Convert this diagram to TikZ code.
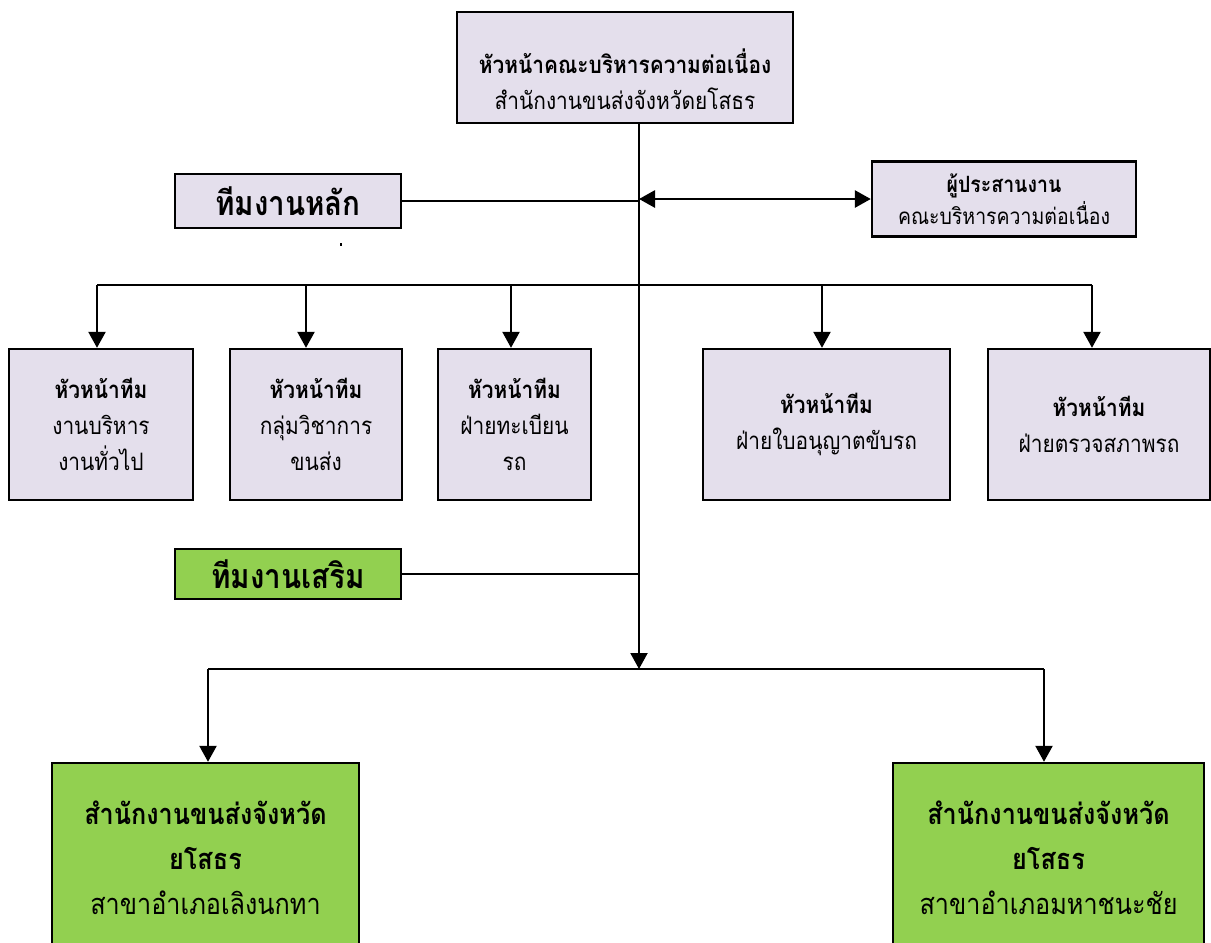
\documentclass[tikz,border=0pt]{standalone}
\usepackage{fontspec}
\setmainfont{Loma}[Script=Thai, FakeStretch=0.87]
\usetikzlibrary{arrows.meta}
\definecolor{lavande}{HTML}{E4DFEC}
\definecolor{vert}{HTML}{92D050}
\begin{document}
\begin{tikzpicture}[x=0.5pt, y=-0.5pt, >={Triangle[width=8.5pt,length=8pt]},
  boite/.style={draw, line width=1.2pt, fill=lavande, align=center, inner sep=0pt,
    font=\fontsize{12}{18}\selectfont},
  verte/.style={boite, fill=vert},
  taille/.style 2 args={minimum width=#1*0.5pt, minimum height=#2*0.5pt},
  trait/.style={line width=1pt}]
\useasboundingbox (0,0) rectangle (1211,943);
\clip (0,0) rectangle (1211,943);
\node[boite, taille={336}{111}] (chef) at (625,67.5)
  {\rule{0pt}{24pt}\textbf{หัวหน้าคณะบริหารความต่อเนื่อง}\\สำนักงานขนส่งจังหวัดยโสธร};
\node[boite, taille={226}{54}, font=\fontsize{17}{20}\selectfont\bfseries] (hlak) at (288,201) {ทีมงานหลัก};
\node[boite, taille={264}{75}, font=\fontsize{11.2}{16}\selectfont] (prasan) at (1004,199)
  {\textbf{ผู้ประสานงาน}\\คณะบริหารความต่อเนื่อง};
\node[verte, taille={226}{50}, font=\fontsize{17}{20}\selectfont\bfseries] (serm) at (288,574) {ทีมงานเสริม};
\fill (340,243) rectangle (342,246);
% axe central
\coordinate (pivot) at (639,669);
\draw[trait,->] (chef.south -| pivot) -- (pivot);
\draw[trait] (hlak.east) -- (hlak.east -| pivot);
\draw[line width=1.4pt,<->] (prasan.west -| pivot) -- (prasan.west);
\draw[trait] (serm.east) -- (serm.east -| pivot);
% chefs d'equipe
\draw[line width=1.2pt] (97,285) -- (1092,285);
\foreach \i/\cx/\lw/\ax/\txt in {1/101/184/97/{งานบริหาร\\งานทั่วไป}, 2/316/172/306/{กลุ่มวิชาการ\\ขนส่ง},
    3/514.5/153/511/{ฝ่ายทะเบียน\\รถ}, 4/826.5/247/822/{ฝ่ายใบอนุญาตขับรถ}, 5/1099/222/1092/{ฝ่ายตรวจสภาพรถ}}
  {\node[boite, taille={\lw}{151}] (t\i) at (\cx,424.5) {\textbf{หัวหน้าทีม}\\\txt};
  \coordinate (d\i) at (\ax,285);
  \draw[line width=1.2pt,->] (d\i) -- (d\i |- t\i.north);};
% bureaux
\draw[trait] (208,669) -- (1044,669);
\foreach \i/\cx/\lw/\ax/\txt in {1/205.5/307/208/สาขาอำเภอเลิงนกทา, 2/1048.5/311/1044/สาขาอำเภอมหาชนะชัย}
  {\node[verte, taille={\lw}{190}, font=\fontsize{14.5}{22.5}\selectfont] (b\i) at (\cx,858)
    {\textbf{สำนักงานขนส่งจังหวัด}\\\textbf{ยโสธร}\\\txt};
  \coordinate (e\i) at (\ax,669);
  \draw[line width=1.2pt,->] (e\i) -- (e\i |- b\i.north);};
\end{tikzpicture}
\end{document}
